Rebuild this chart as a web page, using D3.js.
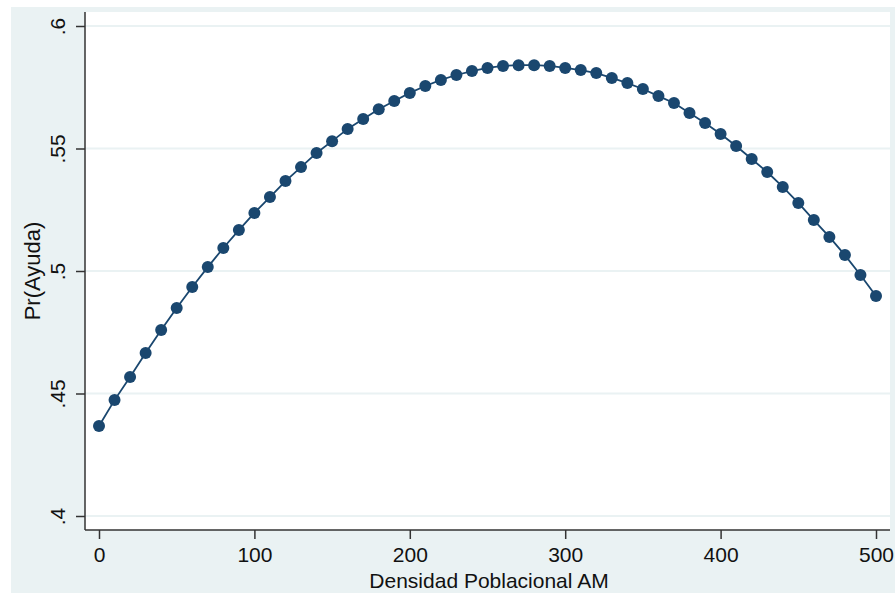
<!DOCTYPE html>
<html>
<head>
<meta charset="utf-8">
<script src="https://cdn.jsdelivr.net/npm/d3@7"></script>
<style>
  body { margin: 0; background: #fff; }
  text { font-family: Arial, "Liberation Sans", sans-serif; }
</style>
</head>
<body>
<div id="chart"></div>
<script>
// data
var density = [0, 10, 20, 30, 40, 50, 60, 70, 80, 90, 100, 110, 120, 130, 140, 150, 160, 170, 180, 190,
               200, 210, 220, 230, 240, 250, 260, 270, 280, 290, 300, 310, 320, 330, 340, 350, 360, 370, 380, 390,
               400, 410, 420, 430, 440, 450, 460, 470, 480, 490, 500];
var prAyuda = [0.4367, 0.4473, 0.4567, 0.4665, 0.4759, 0.4849, 0.4935, 0.5016, 0.5094, 0.5167,
               0.5237, 0.5302, 0.5367, 0.5424, 0.5482, 0.5530, 0.5580, 0.5620, 0.5660, 0.5694,
               0.5727, 0.5755, 0.5780, 0.5800, 0.5816, 0.5829, 0.5837, 0.5840, 0.5840, 0.5837,
               0.5829, 0.5820, 0.5808, 0.5788, 0.5767, 0.5743, 0.5714, 0.5686, 0.5645, 0.5604,
               0.5559, 0.5510, 0.5457, 0.5404, 0.5343, 0.5278, 0.5208, 0.5139, 0.5065, 0.4984, 0.4898];
var xTicks = [0, 100, 200, 300, 400, 500];
var yTicks = [0.4, 0.45, 0.5, 0.55, 0.6];
var yTickLabels = [".4", ".45", ".5", ".55", ".6"];

var W = 895, H = 593;
var plot = {left: 85, right: 890, top: 12, bottom: 530};

var svg = d3.select("#chart")
  .append("svg")
    .attr("width", W)
    .attr("height", H);

// outer graph region
svg.append("rect")
    .attr("x", 11).attr("y", 7)
    .attr("width", W - 11).attr("height", H - 7)
    .style("fill", "#eaf2f3");

// plot region
svg.append("rect")
    .attr("x", plot.left).attr("y", plot.top)
    .attr("width", plot.right - plot.left).attr("height", plot.bottom - plot.top)
    .style("fill", "#fff");

var x = d3.scaleLinear()
    .domain([0, 500])
    .range([99, 876]);

var y = d3.scaleLinear()
    .domain([0.4, 0.6])
    .range([516, 26]);

// grid lines
svg.selectAll(".grid")
    .data(yTicks)
    .enter().append("line")
    .attr("class", "grid")
    .attr("x1", plot.left).attr("x2", plot.right)
    .attr("y1", function(d) { return y(d); })
    .attr("y2", function(d) { return y(d); })
    .style("stroke", "#eaf2f3")
    .style("stroke-width", 2);

// X axis
var xAxis = svg.append("g")
    .attr("transform", "translate(0," + plot.bottom + ")")
    .call(d3.axisBottom(x).tickValues(xTicks).tickSize(9).tickPadding(8).tickSizeOuter(0));
xAxis.select(".domain").attr("d", "M" + plot.left + ",0H" + plot.right);

// Y axis
var yAxis = svg.append("g")
    .attr("transform", "translate(" + plot.left + ",0)")
    .call(d3.axisLeft(y).tickValues(yTicks).tickSize(9).tickSizeOuter(0)
      .tickFormat(function(d, i) { return yTickLabels[i]; }));
yAxis.select(".domain").attr("d", "M0," + plot.top + "V" + plot.bottom);
yAxis.selectAll(".tick text")
    .attr("x", 0).attr("y", 0).attr("dy", 0)
    .attr("text-anchor", "middle")
    .attr("transform", "translate(-20,0) rotate(-90)");

svg.selectAll(".domain, .tick line")
    .style("stroke", "#333")
    .style("stroke-width", 1.5);
svg.selectAll(".tick text")
    .style("font-size", "21px")
    .style("fill", "#111");

// line
var line = d3.line()
    .x(function(d) { return x(d[0]); })
    .y(function(d) { return y(d[1]); });
var pts = density.map(function(d, i) { return [d, prAyuda[i]]; });

svg.append("path")
    .datum(pts)
    .attr("d", line)
    .style("fill", "none")
    .style("stroke", "#1a476f")
    .style("stroke-width", 1.8);

svg.selectAll(".dot")
    .data(pts)
    .enter().append("circle")
    .attr("class", "dot")
    .attr("cx", function(d) { return x(d[0]); })
    .attr("cy", function(d) { return y(d[1]); })
    .attr("r", 6)
    .style("fill", "#1a476f");

// axis titles
svg.append("text")
    .attr("text-anchor", "middle")
    .attr("x", 489)
    .attr("y", 588)
    .style("font-size", "21px")
    .style("fill", "#111")
    .text("Densidad Poblacional AM");

svg.append("text")
    .attr("text-anchor", "middle")
    .attr("transform", "translate(40,271) rotate(-90)")
    .style("font-size", "22px")
    .style("fill", "#111")
    .text("Pr(Ayuda)");
</script>
</body>
</html>
